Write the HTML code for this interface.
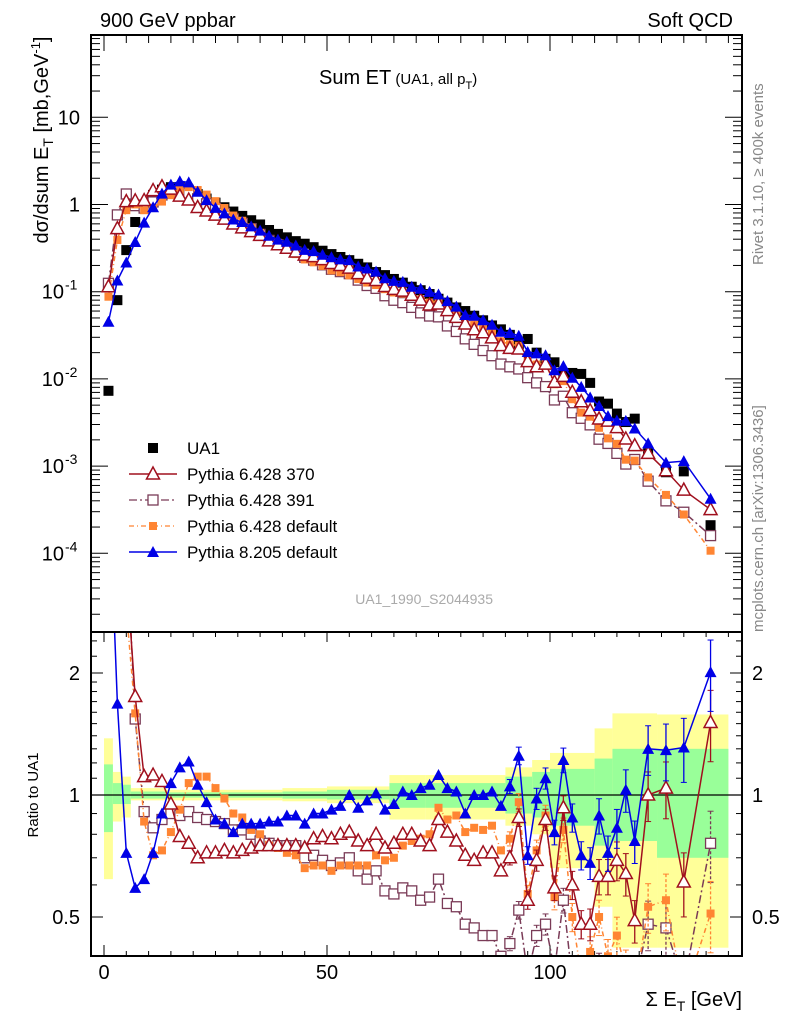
<!DOCTYPE html>
<html><head><meta charset="utf-8"><style>
html,body{margin:0;padding:0;background:#fff;}
svg{display:block;font-family:"Liberation Sans",sans-serif;}
</style></head><body>
<svg id="chart" width="786" height="1024" viewBox="0 0 786 1024" xmlns="http://www.w3.org/2000/svg">
<defs>
<clipPath id="cm"><rect x="91" y="35" width="651" height="597"/></clipPath>
<clipPath id="cr"><rect x="91" y="632" width="651" height="324"/></clipPath>
</defs>
<g id="bands" clip-path="url(#cr)"></g>
<g id="grid"></g>
<g id="mainMarks" clip-path="url(#cm)"></g>
<g id="ratioMarks" clip-path="url(#cr)"></g>
<rect x="91" y="35" width="651" height="597" fill="none" stroke="#000" stroke-width="2"/>
<rect x="91" y="632" width="651" height="324" fill="none" stroke="#000" stroke-width="2"/>
<text x="100" y="27" font-size="20">900 GeV ppbar</text>
<text x="733" y="27" font-size="20" text-anchor="end">Soft QCD</text>
<text x="319" y="84" font-size="20">Sum ET<tspan font-size="15"> (UA1, all p</tspan><tspan font-size="11" dy="5">T</tspan><tspan font-size="15" dy="-5">)</tspan></text>
<text transform="translate(48,140) rotate(-90)" font-size="20" text-anchor="middle">dσ/dsum E<tspan font-size="14" dy="5">T</tspan><tspan dy="-5"> [mb,GeV</tspan><tspan font-size="13" dy="-8">-1</tspan><tspan dy="8">]</tspan></text>
<text transform="translate(38,795) rotate(-90)" font-size="15" text-anchor="middle">Ratio to UA1</text>
<text x="742" y="1006" font-size="20" text-anchor="end">Σ E<tspan font-size="14" dy="5">T</tspan><tspan dy="-5"> [GeV]</tspan></text>
<text transform="translate(763,265) rotate(-90)" font-size="15" fill="#888">Rivet 3.1.10, ≥ 400k events</text>
<text transform="translate(763,632) rotate(-90)" font-size="15" fill="#888">mcplots.cern.ch [arXiv:1306.3436]</text>
<text x="493" y="604" font-size="14" fill="#aaa" text-anchor="end">UA1_1990_S2044935</text>
<g id="legend">
 <g><rect x="148" y="443" width="10" height="10" fill="#000"/><text x="187" y="454" font-size="17">UA1</text></g>
 <g><line x1="129" y1="474" x2="177" y2="474" stroke="#a0101e" stroke-width="1.5"/><polygon points="153,467 159.5,479 146.5,479" fill="#fff" stroke="#a0101e" stroke-width="1.5"/><text x="187" y="480" font-size="17">Pythia 6.428 370</text></g>
 <g><line x1="129" y1="500" x2="177" y2="500" stroke="#7a3b57" stroke-width="1.3" stroke-dasharray="8,3,2,3"/><rect x="148" y="495" width="10" height="10" fill="#fff" stroke="#7a3b57" stroke-width="1.3"/><text x="187" y="506" font-size="17">Pythia 6.428 391</text></g>
 <g><line x1="129" y1="526" x2="177" y2="526" stroke="#ff8533" stroke-width="1.3" stroke-dasharray="5,3,1,3"/><rect x="149" y="522" width="8" height="8" fill="#ff8533"/><text x="187" y="532" font-size="17">Pythia 6.428 default</text></g>
 <g><line x1="129" y1="552" x2="177" y2="552" stroke="#0000e6" stroke-width="1.5"/><polygon points="153,546 159,557 147,557" fill="#0000e6"/><text x="187" y="558" font-size="17">Pythia 8.205 default</text></g>
</g>
</svg>
<script>
const xCenters = [1,3,5,7,9,11,13,15,17,19,21,23,25,27,29,31,33,35,37,39,41,43,45,47,49,51,53,55,57,59,61,63,65,67,69,71,73,75,77,79,81,83,85,87,89,91,93,95,97,99,101,103,105,107,109,111,113,115,117,119,122,126,130,136];
const ua1Values = [0.0073,0.08,0.30,0.63,1.0,1.29,1.48,1.58,1.58,1.48,
 1.32,1.17,1.05,0.93,0.83,0.74,0.66,0.59,0.51,0.46,
 0.42,0.38,0.355,0.324,0.295,0.27,0.25,0.23,0.209,0.19,
 0.168,0.155,0.140,0.127,0.114,0.104,0.094,0.083,0.075,0.066,
 0.060,0.053,0.047,0.041,0.037,0.032,0.025,0.0287,0.020,0.017,
 0.0155,0.0115,0.0117,0.0114,0.009,0.0055,0.0052,0.004,0.0032,0.0035,
 0.0014,0.00085,0.00087,0.00021];
const ratioP8 = [6.2,1.68,0.72,0.59,0.62,0.72,0.90,1.07,1.17,1.21,
 1.06,0.96,0.87,0.85,0.81,0.85,0.85,0.85,0.86,0.86,
 0.89,0.89,0.85,0.90,0.90,0.92,0.94,1.00,0.93,0.97,
 1.01,0.92,0.95,1.02,1.00,1.04,1.06,1.12,1.04,1.02,
 0.90,1.00,1.00,1.02,0.94,1.05,1.25,0.71,0.98,1.10,
 0.81,1.22,0.88,0.71,0.68,0.89,0.72,0.83,1.03,0.77,
 1.30,1.29,1.31,2.01];
const ratioP370 = [15.6,6.6,3.6,1.75,1.11,1.12,1.08,0.95,0.79,0.76,
 0.70,0.72,0.72,0.73,0.72,0.73,0.74,0.75,0.75,0.75,
 0.75,0.75,0.74,0.78,0.79,0.78,0.80,0.81,0.77,0.75,
 0.80,0.74,0.76,0.80,0.80,0.77,0.75,0.87,0.81,0.77,
 0.71,0.69,0.72,0.72,0.65,0.70,0.88,0.55,0.69,0.87,
 0.59,0.93,0.60,0.48,0.48,0.63,0.63,0.69,0.64,0.49,
 1.00,1.04,0.61,1.51];
const ratioP6def = [12.0,4.9,2.87,1.59,0.86,0.71,0.73,0.81,0.92,1.07,
 1.11,1.11,1.04,0.98,0.90,0.88,0.82,0.80,0.75,0.74,
 0.72,0.71,0.66,0.67,0.67,0.65,0.67,0.67,0.67,0.67,
 0.71,0.69,0.70,0.75,0.77,0.78,0.80,0.93,0.87,0.89,
 0.81,0.83,0.82,0.84,0.73,0.78,0.96,0.57,0.73,0.89,
 0.56,0.82,0.50,0.36,0.41,0.50,0.40,0.45,0.37,0.33,
 0.53,0.55,0.32,0.51];
const ratioP391 = [17.1,9.5,4.4,1.54,0.91,0.83,0.87,0.90,0.89,0.91,
 0.88,0.87,0.86,0.85,0.82,0.82,0.80,0.77,0.76,0.75,
 0.75,0.75,0.70,0.71,0.69,0.67,0.68,0.70,0.65,0.62,
 0.65,0.58,0.57,0.59,0.58,0.55,0.56,0.62,0.54,0.53,
 0.48,0.47,0.45,0.45,0.40,0.43,0.52,0.36,0.45,0.48,
 0.37,0.55,0.35,0.31,0.33,0.37,0.35,0.35,0.33,0.34,
 0.48,0.47,0.34,0.76];
const mcErrRel = [0,0,0,0,0,0,0,0,0,0, 0,0,0,0,0,0,0,0,0,0, 0,0,0,0,0,0,0,0,0,0, 0,0,0,0,0,0,0,0,0,0,
 0.02,0.02,0.02,0.02,0.02,0.04,0.05,0.05,0.06,0.06,
 0.07,0.07,0.08,0.08,0.09,0.10,0.10,0.11,0.12,0.12,
 0.14,0.16,0.18,0.20];
const bandEdges = [0,2,4,6,14,40,50,64,72,90,96,100,110,114,124,140];
const yellowLo = [0.62,0.86,0.88,0.97,0.97,0.965,0.955,0.87,0.87,0.84,0.80,0.66,0.53,0.42,0.42];
const yellowHi = [1.38,1.14,1.11,1.04,1.03,1.04,1.05,1.12,1.12,1.17,1.22,1.27,1.46,1.59,1.58];
const greenLo = [0.81,0.95,0.95,0.98,0.985,0.98,0.975,0.93,0.93,0.90,0.88,0.84,0.75,0.77,0.70];
const greenHi = [1.19,1.07,1.06,1.02,1.015,1.02,1.03,1.07,1.07,1.11,1.14,1.16,1.23,1.30,1.30];
const xTickLabels = ["0","50","100"];
const ratioTickLabels = ["0.5","1","2"];

const NS = "http://www.w3.org/2000/svg";
const X = e => 104 + 4.46 * e;
const YM = v => 204.5 - 87.2 * Math.log10(v);
const YR = r => 795 - 405.3 * Math.log10(r);
function mk(tag, attrs, parent) {
  const el = document.createElementNS(NS, tag);
  for (const k in attrs) el.setAttribute(k, attrs[k]);
  parent.appendChild(el);
  return el;
}
const bands = document.getElementById('bands');
const grid = document.getElementById('grid');
const mainG = document.getElementById('mainMarks');
const ratioG = document.getElementById('ratioMarks');

for (let i = 0; i < bandEdges.length - 1; i++) {
  const x0 = X(bandEdges[i]), x1 = X(bandEdges[i + 1]);
  const y = mk('rect', {x: x0, y: YR(yellowHi[i]), width: x1 - x0, height: YR(yellowLo[i]) - YR(yellowHi[i]), fill: '#ffff99'}, bands);
  
  
  const g = mk('rect', {x: x0, y: YR(greenHi[i]), width: x1 - x0, height: YR(greenLo[i]) - YR(greenHi[i]), fill: '#99ff99'}, bands);
  
  
}
const one = mk('line', {x1: 91, x2: 742, y1: YR(1), y2: YR(1), stroke: '#000', 'stroke-width': 1.3}, bands);



for (let e = 0; e <= 140; e += 5) {
  const x = X(e), maj = e % 50 === 0;
  mk('line', {x1: x, x2: x, y1: 35, y2: 35 + (maj ? 16 : 8), stroke: '#000', 'stroke-width': 1}, grid);
  mk('line', {x1: x, x2: x, y1: 632, y2: 632 + (maj ? 10 : 5), stroke: '#000', 'stroke-width': 1}, grid);
  mk('line', {x1: x, x2: x, y1: 956, y2: 956 - (maj ? 11 : 5), stroke: '#000', 'stroke-width': 1}, grid);
}
xTickLabels.forEach((t, i) => {
  const tx = mk('text', {x: X(i * 50), y: 979, 'font-size': 20, 'text-anchor': 'middle'}, grid);
  tx.textContent = t;
  
  
});
for (let d = -5; d <= 1; d++) {
  for (let m = 1; m <= 9; m++) {
    const v = m * Math.pow(10, d), y = YM(v);
    if (y < 35 || y > 632) continue;
    const L = m === 1 ? 17 : 9;
    mk('line', {x1: 91, x2: 91 + L, y1: y, y2: y, stroke: '#000'}, grid);
    mk('line', {x1: 742, x2: 742 - L, y1: y, y2: y, stroke: '#000'}, grid);
  }
}
const decLabels = [[1,'10',null],[0,'1',null],[-1,'10','-1'],[-2,'10','-2'],[-3,'10','-3'],[-4,'10','-4']];
decLabels.forEach(dl => {
  const y = YM(Math.pow(10, dl[0]));
  const t = mk('text', {x: dl[2] ? 64 : 80, y: y + 7, 'font-size': 20, 'text-anchor': 'end'}, grid);
  
  
  t.textContent = dl[1];
  if (dl[2]) { const s = mk('text', {x: 65, y: y - 2, 'font-size': 14}, grid); s.textContent = dl[2]; }
});
const rMinor = [0.4,0.6,0.7,0.8,0.9,1.1,1.2,1.3,1.4,1.5,1.6,1.7,1.8,1.9,2.2,2.4];
rMinor.forEach(r => {
  const y = YR(r);
  mk('line', {x1: 91, x2: 97, y1: y, y2: y, stroke: '#000'}, grid);
  mk('line', {x1: 742, x2: 736, y1: y, y2: y, stroke: '#000'}, grid);
});
ratioTickLabels.forEach(t => {
  const y = YR(parseFloat(t));
  mk('line', {x1: 91, x2: 103, y1: y, y2: y, stroke: '#000'}, grid);
  mk('line', {x1: 742, x2: 730, y1: y, y2: y, stroke: '#000'}, grid);
  const a = mk('text', {x: 80, y: y + 7, 'font-size': 20, 'text-anchor': 'end'}, grid);
  a.textContent = t;
  
  
  const b = mk('text', {x: 752, y: y + 7, 'font-size': 20}, grid);
  b.textContent = t;
  
  
});

function marker(kind, x, y, color, parent) {
  let el;
  if (kind === 'otri') el = mk('polygon', {points: `${x},${y-7} ${x+6.5},${y+5} ${x-6.5},${y+5}`, fill: '#fff', stroke: color, 'stroke-width': 1.5}, parent);
  else if (kind === 'ftri') el = mk('polygon', {points: `${x},${y-6} ${x+6},${y+5} ${x-6},${y+5}`, fill: color}, parent);
  else if (kind === 'osq') el = mk('rect', {x: x-5, y: y-5, width: 10, height: 10, fill: '#fff', stroke: color, 'stroke-width': 1.3}, parent);
  else if (kind === 'fsq') el = mk('rect', {x: x-4, y: y-4, width: 8, height: 8, fill: color}, parent);
  else el = mk('rect', {x: x-5, y: y-5, width: 10, height: 10, fill: color}, parent);
  return el;
}
const series = [
  {name: 'pythia6-391', r: ratioP391, color: '#7a3b57', dash: '8,3,2,3', m: 'osq'},
  {name: 'pythia6-default', r: ratioP6def, color: '#ff8533', dash: '5,3,1,3', m: 'fsq'},
  {name: 'pythia6-370', r: ratioP370, color: '#a0101e', dash: null, m: 'otri'},
  {name: 'pythia8-default', r: ratioP8, color: '#0000e6', dash: null, m: 'ftri'}
];
ua1Values.forEach((v, i) => {
  const el = marker('bsq', X(xCenters[i]), YM(v), '#000', mainG);
  
  
});
series.forEach(s => {
  const mainVals = s.r.map((r, i) => r * ua1Values[i]);
  const pm = mainVals.map((v, i) => `${X(xCenters[i]).toFixed(1)},${YM(v).toFixed(1)}`).join(' ');
  const lm = mk('polyline', {points: pm, fill: 'none', stroke: s.color, 'stroke-width': 1.5}, mainG);
  if (s.dash) lm.setAttribute('stroke-dasharray', s.dash);
  
  
  const pr = s.r.map((r, i) => `${X(xCenters[i]).toFixed(1)},${YR(r).toFixed(1)}`).join(' ');
  const lr = mk('polyline', {points: pr, fill: 'none', stroke: s.color, 'stroke-width': 1.5}, ratioG);
  if (s.dash) lr.setAttribute('stroke-dasharray', s.dash);
  
  
  s.r.forEach((r, i) => {
    const x = X(xCenters[i]), er = mcErrRel[i];
    if (er > 0.03) {
      const e1 = mk('line', {x1: x, x2: x, y1: YR(r * (1 + er)), y2: YR(r * (1 - er)), stroke: s.color, 'stroke-width': 1.3}, ratioG);
      if (s.dash) e1.setAttribute('stroke-dasharray', '3,2');
      mk('line', {x1: x-3, x2: x+3, y1: YR(r * (1 + er)), y2: YR(r * (1 + er)), stroke: s.color}, ratioG);
      mk('line', {x1: x-3, x2: x+3, y1: YR(r * (1 - er)), y2: YR(r * (1 - er)), stroke: s.color}, ratioG);
    }
    const a = marker(s.m, x, YM(mainVals[i]), s.color, mainG);
    
    
    const b = marker(s.m, x, YR(r), s.color, ratioG);
    
    
  });
});
</script>
</body></html>
